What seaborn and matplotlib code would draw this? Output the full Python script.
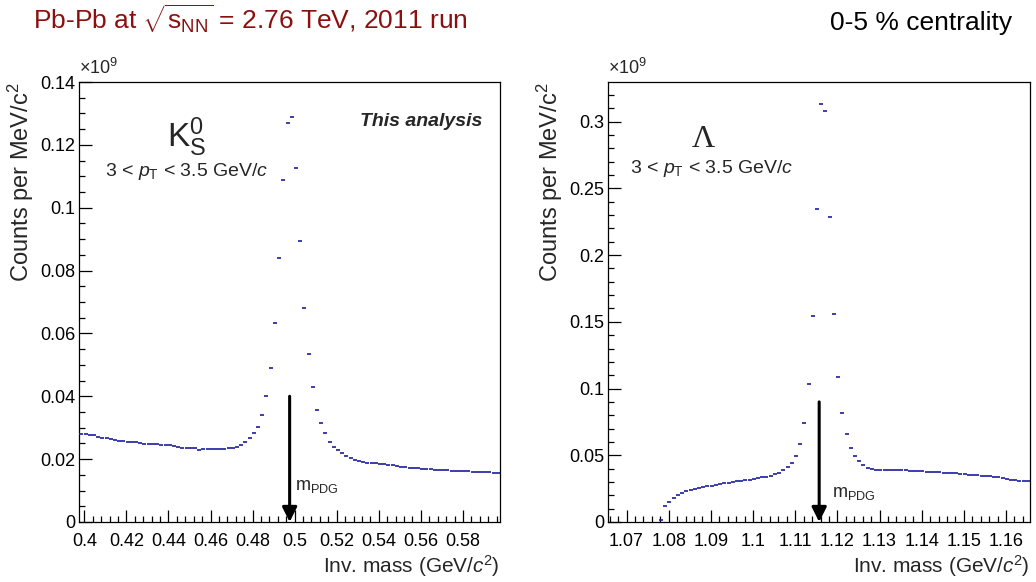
import numpy as np
import pandas as pd
import seaborn as sns
import matplotlib.pyplot as plt
from matplotlib.ticker import MultipleLocator, FuncFormatter

sns.set_style('ticks')
plt.rcParams['font.family'] = ['Liberation Sans', 'DejaVu Sans']
plt.rcParams['mathtext.fontset'] = 'custom'
plt.rcParams['mathtext.rm'] = 'Liberation Sans'
plt.rcParams['mathtext.it'] = 'Liberation Sans:italic'
plt.rcParams['mathtext.bf'] = 'Liberation Sans:bold'

# K0s candidates, 3 < pT < 3.5 GeV/c, 2 MeV bins, counts per MeV/c2 (x1e9)
k0s_m_pdg = 0.497611
k0s_lo = 0.3976
k0s_bin = 0.002
k0s_counts = [
    0.0281, 0.0280, 0.0278, 0.0277, 0.0270, 0.0267, 0.0266, 0.0264, 0.0262, 0.0259,
    0.0258, 0.0256, 0.0255, 0.0254, 0.0252, 0.0249, 0.0249, 0.0247, 0.0247, 0.0246,
    0.0244, 0.0244, 0.0242, 0.0238, 0.0237, 0.0237, 0.0237, 0.0235, 0.0230, 0.0232,
    0.0233, 0.0233, 0.0233, 0.0233, 0.0233, 0.0234, 0.0236, 0.0238, 0.0245, 0.0253,
    0.0266, 0.0282, 0.0303, 0.0341, 0.0401, 0.0489, 0.0634, 0.0839, 0.1087, 0.1271,
    0.1289, 0.1126, 0.0893, 0.0681, 0.0533, 0.0430, 0.0357, 0.0315, 0.0282, 0.0255,
    0.0239, 0.0229, 0.0220, 0.0210, 0.0203, 0.0198, 0.0193, 0.0190, 0.0189, 0.0188,
    0.0187, 0.0185, 0.0183, 0.0182, 0.0181, 0.0178, 0.0176, 0.0175, 0.0173, 0.0172,
    0.0171, 0.0170, 0.0169, 0.0168, 0.0167, 0.0166, 0.0165, 0.0164, 0.0163, 0.0163,
    0.0162, 0.0161, 0.0161, 0.0160, 0.0160, 0.0160, 0.0159, 0.0158, 0.0157, 0.0157,
]

# Lambda candidates, 1 MeV bins, first filled bin is number 12
lam_m_pdg = 1.115683
lam_lo = 1.06568
lam_bin = 0.001
lam_first = 12
lam_counts = [
    0.0015, 0.0118, 0.0150, 0.0178, 0.0203, 0.0220, 0.0233, 0.0243,
    0.0248, 0.0253, 0.0260, 0.0267, 0.0273, 0.0279, 0.0284, 0.0289, 0.0295, 0.0300,
    0.0305, 0.0309, 0.0313, 0.0318, 0.0322, 0.0328, 0.0334, 0.0340, 0.0348, 0.0358,
    0.0370, 0.0388, 0.0410, 0.0442, 0.0495, 0.0582, 0.0742, 0.1035, 0.1544, 0.2342,
    0.3131, 0.3079, 0.2287, 0.1555, 0.1085, 0.0813, 0.0657, 0.0555, 0.0495, 0.0460,
    0.0425, 0.0408, 0.0397, 0.0393, 0.0391, 0.0390, 0.0389, 0.0389, 0.0388, 0.0387,
    0.0386, 0.0385, 0.0384, 0.0382, 0.0380, 0.0378, 0.0376, 0.0374, 0.0372, 0.0370,
    0.0368, 0.0366, 0.0364, 0.0361, 0.0358, 0.0355, 0.0352, 0.0349, 0.0347, 0.0345,
    0.0342, 0.0339, 0.0336, 0.0330, 0.0322, 0.0315, 0.0312, 0.0310, 0.0308, 0.0307,
]

k0s_df = pd.DataFrame({
    'mass': k0s_lo + k0s_bin * (np.arange(len(k0s_counts)) + 0.5),
    'counts': k0s_counts,
})
lam_df = pd.DataFrame({
    'mass': lam_lo + lam_bin * (np.arange(len(lam_counts)) + lam_first + 0.5),
    'counts': lam_counts,
})

blue = '#1c1ca0'
fmt = FuncFormatter(lambda v, p: '%g' % round(v, 6))

fig = plt.figure(figsize=(10.36, 5.82), dpi=100)
ax1 = fig.add_axes([0.0765, 0.1031, 0.4061, 0.7560])
ax2 = fig.add_axes([0.5872, 0.1031, 0.4070, 0.7560])

panels = [
    (ax1, k0s_df, k0s_lo, k0s_lo + 0.2, 0.14, 0.02, 0.005, 0.02, 0.004, k0s_m_pdg, 0.04),
    (ax2, lam_df, lam_lo, lam_lo + 0.1, 0.3297, 0.05, 0.01, 0.01, 0.002, lam_m_pdg, 0.09),
]

for ax, df, x0, x1, ymax, ymaj, ymin, xmaj, xmin, mpdg, arrow_top in panels:
    sns.scatterplot(data=df, x='mass', y='counts', marker='_', s=10, linewidth=1.2,
                    color=blue, ax=ax, legend=False, zorder=3)
    ax.set_xlim(x0, x1)
    ax.set_ylim(0, ymax)
    ax.xaxis.set_major_locator(MultipleLocator(xmaj))
    ax.xaxis.set_minor_locator(MultipleLocator(xmin))
    ax.yaxis.set_major_locator(MultipleLocator(ymaj))
    ax.yaxis.set_minor_locator(MultipleLocator(ymin))
    ax.xaxis.set_major_formatter(fmt)
    ax.yaxis.set_major_formatter(fmt)
    ax.tick_params(which='both', direction='in', top=False, right=False,
                   labelsize=13, width=0.9, colors='black')
    ax.tick_params(axis='x', which='major', length=9, pad=8)
    ax.tick_params(axis='x', which='minor', length=4.5)
    ax.tick_params(axis='y', which='major', length=9, pad=3)
    ax.tick_params(axis='y', which='minor', length=4.5)
    for sp in ax.spines.values():
        sp.set_visible(True)
        sp.set_linewidth(0.9)
        sp.set_color('black')
    ax.set_xlabel('')
    ax.set_ylabel('')
    ax.text(1.0, -0.116, r'Inv. mass (GeV/$c$$^{2}$)', transform=ax.transAxes,
            ha='right', va='baseline', fontsize=15)
    ax.text(-0.138, 1.0, r'Counts per MeV/c$^{2}$', transform=ax.transAxes,
            rotation=90, ha='center', va='top', fontsize=17)
    ax.text(0.0, 1.01, r'$\times$10$^{9}$', transform=ax.transAxes,
            ha='left', va='bottom', fontsize=13)
    ax.annotate('', xy=(mpdg, 0), xytext=(mpdg, arrow_top),
                arrowprops=dict(arrowstyle='-|>', color='black', lw=2.2,
                                mutation_scale=22, shrinkA=0, shrinkB=0),
                zorder=4)

ax1.text(0.208, 0.851, r'K$^{0}_{\rm S}$', transform=ax1.transAxes,
         ha='left', va='baseline', fontsize=24)
ax1.text(0.061, 0.786, r'3 < $p_{\rm T}$ < 3.5 GeV/$c$', transform=ax1.transAxes,
         ha='left', va='baseline', fontsize=14)
ax1.text(0.957, 0.90, 'This analysis', transform=ax1.transAxes,
         ha='right', va='baseline', fontsize=14, fontweight='bold', fontstyle='italic')
ax1.text(0.512, 0.0727, r'm$_{\rm PDG}$', transform=ax1.transAxes,
         ha='left', va='baseline', fontsize=13)

ax2.text(0.198, 0.852, '\u039b', transform=ax2.transAxes,
         ha='left', va='baseline', fontsize=23, family='Liberation Serif')
ax2.text(0.051, 0.793, r'3 < $p_{\rm T}$ < 3.5 GeV/$c$', transform=ax2.transAxes,
         ha='left', va='baseline', fontsize=14)
ax2.text(0.530, 0.0575, r'm$_{\rm PDG}$', transform=ax2.transAxes,
         ha='left', va='baseline', fontsize=13)

fig.text(33 / 1036, 1 - 30 / 582, r'Pb-Pb at $\sqrt{\mathrm{s}_{\rm NN}}$ = 2.76 TeV, 2011 run',
         ha='left', va='baseline', fontsize=19, color='#8c1010')
fig.text(1012 / 1036, 1 - 30 / 582, '0-5 % centrality',
         ha='right', va='baseline', fontsize=19, color='black')

fig.savefig('out.png', dpi=100)
